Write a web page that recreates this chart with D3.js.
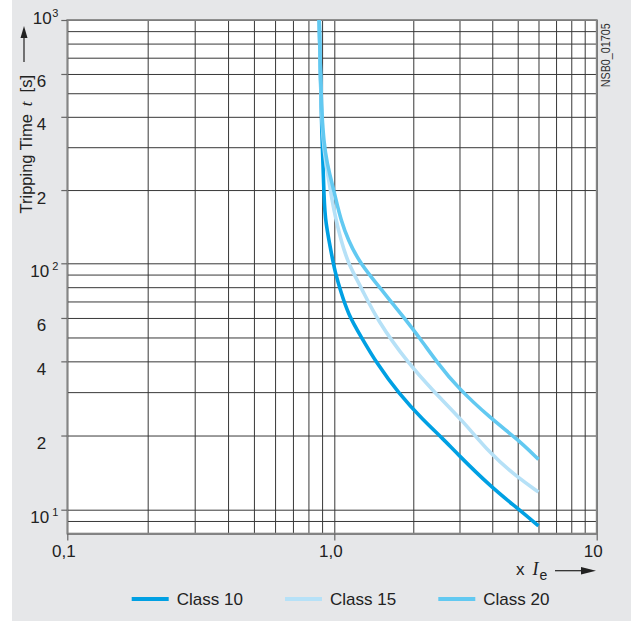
<!DOCTYPE html>
<html>
<head>
<meta charset="utf-8">
<script src="https://cdn.jsdelivr.net/npm/d3@7"></script>
<style>
  body { margin: 0; background: #fff; }
  svg { display: block; font-family: "Liberation Sans", Arial, sans-serif; }
</style>
</head>
<body>
<svg id="chart"></svg>
<script>
const W = 631, H = 621;

// curves: multiple of Ie -> tripping time in s
const seriesNames = ["Class 10", "Class 15", "Class 20"];
const seriesColors = ["#00a0e3", "#b6e1f7", "#62c9f1"];

const class10X = [0.878, 0.899, 0.917, 0.923, 0.991, 1.015, 1.051, 1.128, 1.264, 1.45, 1.76, 2.18, 2.597, 2.935, 3.945, 4.955, 6.0];
const class10T = [1000, 312, 182, 150.7, 100, 89.6, 78.7, 62.2, 50.4, 39.3, 29.6, 23.1, 19.4, 16.9, 12.4, 10.2, 8.6];

const class15X = [0.878, 0.899, 0.947, 0.98, 1.015, 1.06, 1.128, 1.275, 1.455, 1.91, 2.42, 3.07, 3.92, 4.955, 6.0];
const class15T = [1000, 312, 230.7, 182, 150.7, 124.7, 100, 78.7, 58.9, 39.3, 29.8, 23.1, 16.9, 13.6, 11.8];

const class20X = [0.878, 0.899, 0.964, 1.015, 1.06, 1.128, 1.253, 1.506, 1.86, 2.12, 2.48, 2.935, 3.92, 4.97, 6.0];
const class20T = [1000, 312, 230.7, 182, 150.7, 124.7, 100, 78.7, 59.4, 49.6, 39.3, 31.5, 23.6, 19.4, 16.0];

// axes
const xTickValues = [0.1, 1, 10];
const xTickLabels = ["0,1", "1,0", "10"];
const yTickValues = [1000, 600, 400, 200, 100, 60, 40, 20, 10];
const yTickLabels = ["10^3", "6", "4", "2", "10^2", "6", "4", "2", "10^1"];
const xGridValues = [0.1, 0.2, 0.3, 0.4, 0.5, 0.6, 0.7, 0.8, 0.9, 1, 2, 3, 4, 5, 6, 7, 8, 9, 10];
const yGridValues = [8, 9, 10, 20, 30, 40, 50, 60, 70, 80, 90, 100, 200, 300, 400, 500, 600, 700, 800, 900, 1000];

const svg = d3.select("#chart").attr("width", W).attr("height", H);

// grey panel
svg.append("rect")
  .attr("x", 12).attr("y", 0)
  .attr("width", W - 12).attr("height", H)
  .attr("fill", "#e6e7e9");

// the decades are not quite equal in the original, so piecewise log scales
const x = d3.scaleLog().domain([0.1, 1, 10]).range([67.3, 334.3, 596.7]);
const y = d3.scaleLog().domain([10, 100, 1000]).range([509.7, 263.3, 20]);

const xL = x(0.1), xR = x(10), yT = y(1000), yB = y(8);

svg.append("rect")
  .attr("x", xL).attr("y", yT)
  .attr("width", xR - xL).attr("height", yB - yT)
  .attr("fill", "#fff");

// grid
svg.append("g")
  .attr("transform", `translate(${xL},0)`)
  .call(d3.axisLeft(y).tickValues(yGridValues).tickSize(-(xR - xL)).tickFormat(""))
  .call(g => g.select(".domain").remove())
  .call(g => g.selectAll("line").attr("stroke", "#383838"));

svg.append("g")
  .attr("transform", `translate(0,${yB})`)
  .call(d3.axisBottom(x).tickValues(xGridValues).tickSize(-(yB - yT)).tickFormat(""))
  .call(g => g.select(".domain").remove())
  .call(g => g.selectAll("line").attr("stroke", "#383838"));

// frame
svg.append("rect")
  .attr("x", xL).attr("y", yT)
  .attr("width", xR - xL).attr("height", yB - yT)
  .attr("fill", "none")
  .attr("stroke", "#858585")
  .attr("stroke-width", 1.8);

// curves
const line = d3.line()
  .x(d => x(d[0]))
  .y(d => y(d[1]))
  .curve(d3.curveBasis);

const seriesData = [
  d3.zip(class10X, class10T),
  d3.zip(class15X, class15T),
  d3.zip(class20X, class20T)
];

svg.append("g")
  .selectAll("path")
  .data(seriesData)
  .join("path")
    .attr("d", line)
    .attr("fill", "none")
    .attr("stroke", (d, i) => seriesColors[i])
    .attr("stroke-width", 3.6)
    .attr("stroke-linejoin", "round");

// y ticks + labels
const yAxis = svg.append("g")
  .attr("transform", `translate(${xL},0)`)
  .call(d3.axisLeft(y).tickValues(yTickValues).tickSize(6).tickFormat(""))
  .call(g => g.select(".domain").remove())
  .call(g => g.selectAll("line").attr("stroke", "#666").attr("stroke-width", 1.2))
  .call(g => g.selectAll("text").remove());

yAxis.selectAll(".tick").each(function (d) {
  const lab = yTickLabels[yTickValues.indexOf(d)];
  const g = d3.select(this);
  const base = d === 1000 ? 3.5 : 13;
  if (lab.includes("^")) {
    const [b, e] = lab.split("^");
    const t = g.append("text")
      .attr("x", -9).attr("y", base)
      .attr("text-anchor", "end")
      .attr("fill", "#222")
      .attr("font-size", 17);
    t.append("tspan").text(b);
    t.append("tspan").attr("dx", d === 1000 ? 0.5 : 3).attr("dy", -7).attr("font-size", 11).text(e);
  } else {
    g.append("text")
      .attr("x", -21).attr("y", base)
      .attr("text-anchor", "end")
      .attr("fill", "#222")
      .attr("font-size", 17)
      .text(lab);
  }
});

// x ticks + labels
svg.append("g")
  .attr("transform", `translate(0,${yB})`)
  .call(d3.axisBottom(x).tickValues(xTickValues).tickSize(7).tickFormat((d, i) => xTickLabels[i]))
  .call(g => g.select(".domain").remove())
  .call(g => g.selectAll("line").attr("stroke", "#666").attr("stroke-width", 1.2))
  .call(g => g.selectAll("text")
    .attr("y", 23).attr("dy", 0).attr("dx", -4)
    .attr("fill", "#222")
    .attr("font-size", 17)
    .attr("font-family", "'Liberation Sans', Arial, sans-serif"));

// y title with arrow
const yTitle = svg.append("text")
  .attr("transform", "translate(32,75) rotate(-90)")
  .attr("text-anchor", "end")
  .attr("fill", "#222")
  .attr("font-size", 16.5);
yTitle.append("tspan").text("Tripping Time");
yTitle.append("tspan").attr("dx", 8)
  .attr("font-family", "'Liberation Serif', 'Times New Roman', serif")
  .attr("font-style", "italic").attr("font-size", 17).text("t");
yTitle.append("tspan").attr("dx", 9).text("[s]");

svg.append("line")
  .attr("x1", 24).attr("x2", 24).attr("y1", 62).attr("y2", 34)
  .attr("stroke", "#222").attr("stroke-width", 1.2);
svg.append("path")
  .attr("d", "M24,26 L20.5,38 L27.5,38 Z")
  .attr("fill", "#222");

// x title with arrow
const xTitle = svg.append("text")
  .attr("x", 516).attr("y", 575)
  .attr("fill", "#222")
  .attr("font-size", 17);
xTitle.append("tspan").text("x");
xTitle.append("tspan").attr("dx", 8)
  .attr("font-family", "'Liberation Serif', 'Times New Roman', serif")
  .attr("font-style", "italic").attr("font-size", 18).text("I");
xTitle.append("tspan").attr("dx", 1).attr("dy", 5).attr("font-size", 14).text("e");

svg.append("line")
  .attr("x1", 555).attr("x2", 585).attr("y1", 570.7).attr("y2", 570.7)
  .attr("stroke", "#222").attr("stroke-width", 1.2);
svg.append("path")
  .attr("d", "M596,570.7 L581,567 L581,574.4 Z")
  .attr("fill", "#222");

// drawing number
svg.append("text")
  .attr("transform", "translate(610,23.3) rotate(-90)")
  .attr("text-anchor", "end")
  .attr("fill", "#333")
  .attr("font-size", 12.5)
  .attr("textLength", 64)
  .attr("lengthAdjust", "spacingAndGlyphs")
  .text("NSB0_01705");

// legend
const legend = svg.append("g")
  .selectAll("g")
  .data(seriesNames)
  .join("g")
    .attr("transform", (d, i) => `translate(${131.7 + i * 153.3},599)`);

legend.append("line")
  .attr("x1", 0).attr("x2", 37)
  .attr("stroke", (d, i) => seriesColors[i])
  .attr("stroke-width", 4);

legend.append("text")
  .attr("x", 45).attr("y", 6)
  .attr("fill", "#222")
  .attr("font-size", 17)
  .text(d => d);
</script>
</body>
</html>
